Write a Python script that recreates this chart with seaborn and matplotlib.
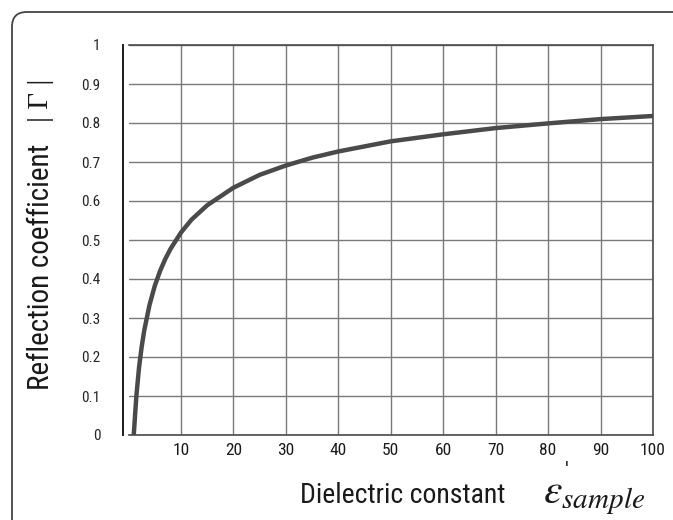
import matplotlib
matplotlib.use("Agg")
import matplotlib.pyplot as plt
import seaborn as sns
import pandas as pd
from matplotlib.patches import FancyBboxPatch

# values
eps = [1, 1.5, 2, 2.5, 3, 4, 5, 6, 7, 8, 10, 12, 15, 20, 25, 30, 35, 40, 50, 60, 70, 80, 90, 100]
gamma = [0.0, 0.10, 0.172, 0.225, 0.268, 0.333, 0.382, 0.42, 0.451, 0.477, 0.519, 0.552, 0.589,
         0.634, 0.667, 0.691, 0.711, 0.727, 0.753, 0.771, 0.787, 0.799, 0.810, 0.818]
xticks = [10, 20, 30, 40, 50, 60, 70, 80, 90, 100]
yticks = [0, 0.1, 0.2, 0.3, 0.4, 0.5, 0.6, 0.7, 0.8, 0.9, 1]
ylabels = ["0", "0.1", "0.2", "0.3", "0.4", "0.5", "0.6", "0.7", "0.8", "0.9", "1"]

sns.set_theme(style="white")
narrow = ["Roboto Condensed", "Liberation Sans Narrow", "DejaVu Sans Condensed", "Roboto", "DejaVu Sans"]
plt.rcParams['font.family'] = narrow

W, H = 673, 520
fig = plt.figure(figsize=(W / 100, H / 100), dpi=100)
ax = fig.add_axes([128.5 / W, 1 - 435 / H, (653 - 128.5) / W, (435 - 45) / H])

# outer rounded frame
box = FancyBboxPatch((12 / W, -0.2), 1.2, 1 - 12 / H + 0.2,
                     boxstyle="round,pad=0,rounding_size=0.022",
                     transform=fig.transFigure, fill=False, ec="#444444", lw=1.3,
                     mutation_aspect=W / H)
fig.patches.append(box)

df = pd.DataFrame({"eps": eps, "gamma": gamma})
sns.lineplot(data=df, x="eps", y="gamma", ax=ax, color="#4a4a4a", lw=3.2)

ax.set_xlim(0, 100)
ax.set_ylim(0, 1)
ax.set_xticks(xticks)
ax.set_yticks(yticks)
ax.set_xticklabels([str(t) for t in xticks], fontsize=12.5, color="#1a1a1a")
ax.set_yticklabels(ylabels, fontsize=12.5, color="#1a1a1a")
ax.tick_params(axis="y", length=0, pad=16)
ax.tick_params(axis="x", length=0, pad=5.5)
ax.grid(True, color="#7a7a7a", lw=1.0)
ax.set_axisbelow(True)
for s in ["top", "right", "bottom"]:
    ax.spines[s].set_color("#4a4a4a")
    ax.spines[s].set_linewidth(1.2)
ax.spines["left"].set_position(("outward", 4))
ax.spines["left"].set_color("#1a1a1a")
ax.spines["left"].set_linewidth(1.4)
ax.set_xlabel("")
ax.set_ylabel("")

fig.text(41 / W, 1 - 267 / H, "Reflection coefficient", rotation=90,
         ha="center", va="center", fontsize=21, color="#1a1a1a")
fig.text(41 / W, 1 - 100 / H, "| Γ |", rotation=90,
         ha="center", va="center", fontsize=21, color="#1a1a1a",
         family=["Liberation Serif", "DejaVu Serif"])
fig.text(300 / W, 1 - 503 / H, "Dielectric constant", ha="left", va="baseline",
         fontsize=20, color="#1a1a1a")
fig.text(543 / W, 1 - 503 / H, r"$\varepsilon_{sample}$", ha="left", va="baseline",
         fontsize=30, color="#1a1a1a", math_fontfamily="stix")
fig.text(567 / W, 1 - 472 / H, "'", ha="center", va="center",
         fontsize=16, color="#1a1a1a")

fig.savefig("out.png", dpi=100)
